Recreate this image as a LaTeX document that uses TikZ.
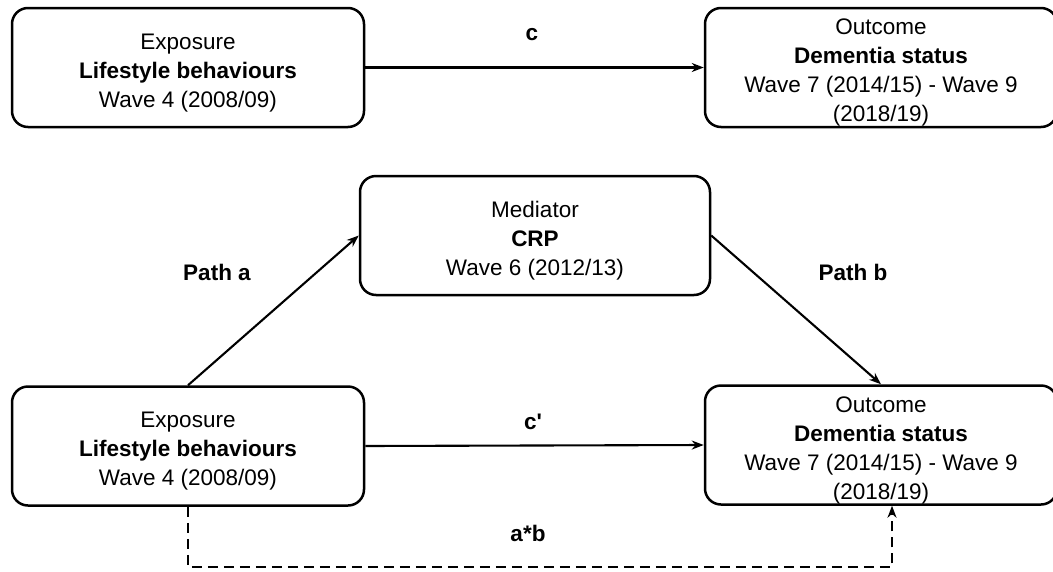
\documentclass[tikz,border=0pt]{standalone}
\usepackage{fontspec}
\setmainfont{Liberation Sans}[Ligatures=TeXOff]
\usetikzlibrary{arrows.meta}
\newcommand{\boxtext}[1]{\raisebox{-5pt}[\height][\depth]{\begin{tabular}{@{}c@{}}#1\end{tabular}}}
\begin{document}
\begin{tikzpicture}[x=1pt,y=-1pt,
  box/.style={draw,line width=2.5pt,rounded corners=16pt,minimum width=352pt,minimum height=119pt,align=center,inner sep=0pt,font=\fontsize{22.5}{29}\selectfont},
  conn/.style={line width=2.1pt,-{Stealth[length=12pt,width=9pt]}},
  lab/.style={font=\fontsize{22.5}{27}\selectfont\bfseries}]
\useasboundingbox (0,0) rectangle (1053,571);
\node[box] (tl) at (188,67.5) {\boxtext{Exposure\\\textbf{Lifestyle behaviours}\\Wave 4 (2008/09)}};
\node[box] (tr) at (881,67.5) {\boxtext{Outcome\\\textbf{Dementia status}\\Wave 7 (2014/15) - Wave 9\\(2018/19)}};
\node[box,minimum width=350pt] (m) at (535,235.5) {\boxtext{Mediator\\\textbf{CRP}\\Wave 6 (2012/13)}};
\node[box] (bl) at (188,446) {\boxtext{Exposure\\\textbf{Lifestyle behaviours}\\Wave 4 (2008/09)}};
\node[box] (br) at (881,445) {\boxtext{Outcome\\\textbf{Dementia status}\\Wave 7 (2014/15) - Wave 9\\(2018/19)}};
\node[lab] (lc) at (532,35) {c};
\node[lab] (lcp) at (533,422) {c'};
\node[lab] (lab) at (528,533) {a*b};
\node[lab] (lpa) at (217,272) {Path a};
\node[lab] (lpb) at (853,272) {Path b};
\draw[conn] (tl.east) -- (tr.west);
\draw[conn] (bl.east) -- (br.west);
\draw[conn] (bl.north) -- (m.west);
\draw[conn] (m.east) -- (br.north);
\coordinate (d1) at (188,567);
\coordinate (d2) at (892,567);
\draw[conn,dash pattern=on 10pt off 6pt] (bl.south) -- (d1) -- (d2) -- (br.south -| d2);
\end{tikzpicture}
\end{document}
